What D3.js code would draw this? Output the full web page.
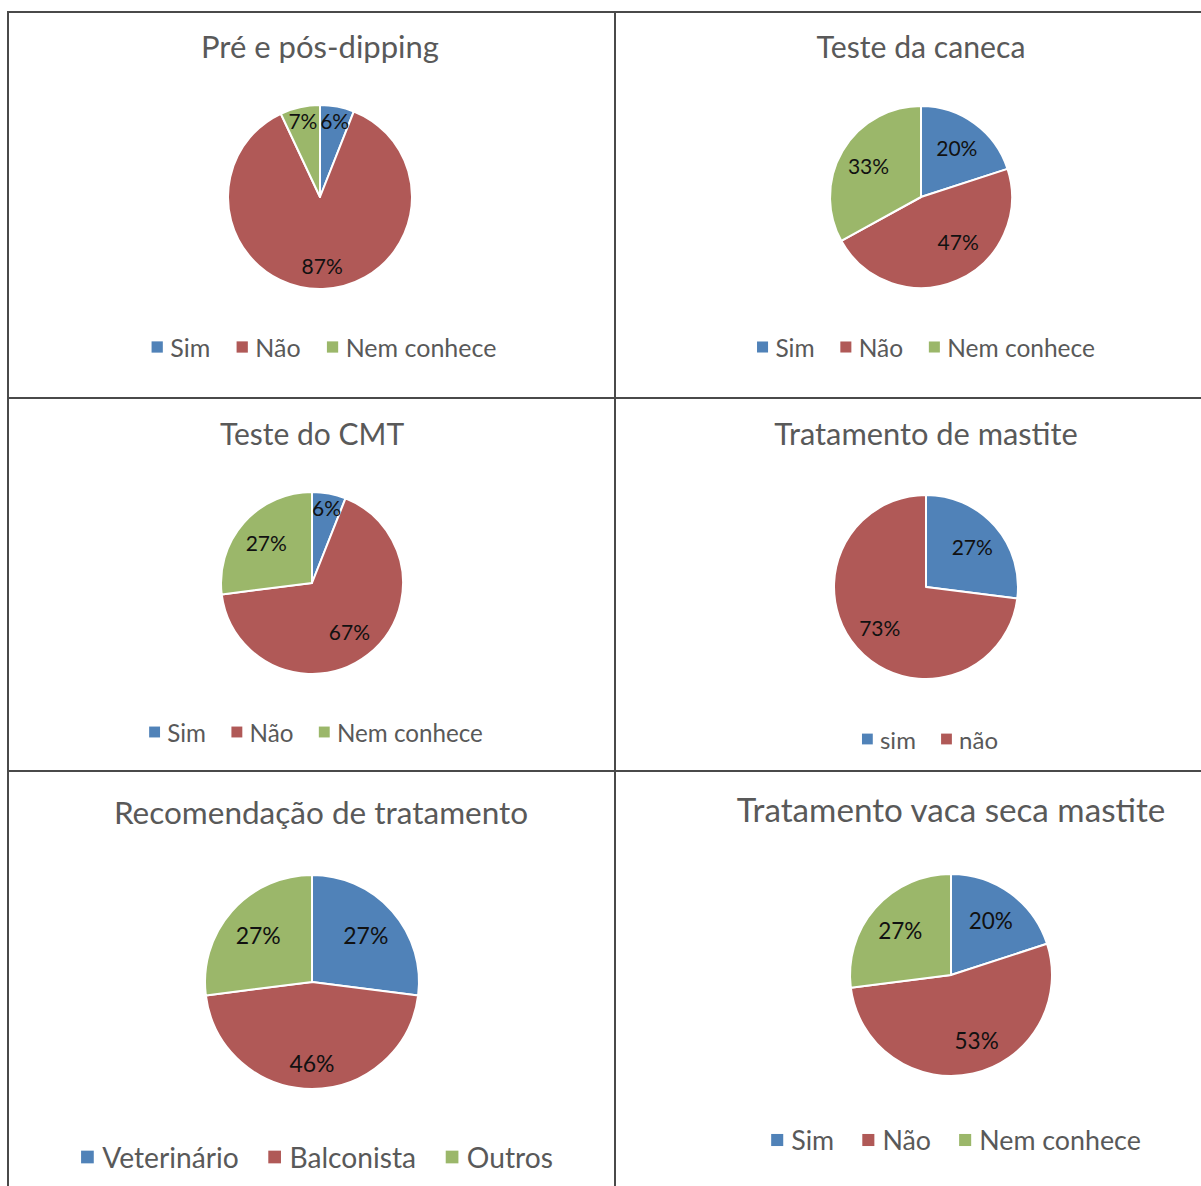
<!DOCTYPE html>
<html>
<head>
<meta charset="utf-8">
<script src="https://cdn.jsdelivr.net/npm/d3@7"></script>
<style>
  html, body { margin: 0; padding: 0; background: #fff; }
  svg { display: block; }
  text { font-family: Lato, "Open Sans", sans-serif; }
</style>
</head>
<body>
<svg id="chart" width="1201" height="1186"></svg>
<script>
// ---- Data ----
const titles = [
  "Pré e pós-dipping",
  "Teste da caneca",
  "Teste do CMT",
  "Tratamento de mastite",
  "Recomendação de tratamento",
  "Tratamento vaca seca mastite"
];
const catSimNao = ["Sim", "Não", "Nem conhece"];
const catSimNaoLower = ["sim", "não"];
const catRecomendacao = ["Veterinário", "Balconista", "Outros"];

const valuesDipping = [6, 87, 7];
const valuesCaneca = [20, 47, 33];
const valuesCMT = [6, 67, 27];
const valuesTratamento = [27, 73];
const valuesRecomendacao = [27, 46, 27];
const valuesVacaSeca = [20, 53, 27];

// ---- Styles / layout ----
const colors = ["#5082B8", "#B05957", "#9BB76A"];
const layout = [
  { cx: 320, cy: 197, r: 92, tx: 320, ty: 58, ts: 31, lx: 324, ly: 347, ls: 25, fs: 21 },
  { cx: 921, cy: 197, r: 91, tx: 921, ty: 58, ts: 30.2, lx: 926, ly: 347, ls: 24.5, fs: 21 },
  { cx: 312, cy: 583, r: 91, tx: 312, ty: 445, ts: 30, lx: 316, ly: 732, ls: 24.2, fs: 21 },
  { cx: 926, cy: 587, r: 92, tx: 926, ty: 445, ts: 30.8, lx: 930, ly: 739, ls: 24, fs: 21 },
  { cx: 312, cy: 982, r: 107, tx: 321, ty: 824, ts: 31.5, lx: 317, ly: 1157, ls: 28.2, fs: 23 },
  { cx: 951, cy: 975, r: 101, tx: 951, ty: 822, ts: 33.2, lx: 956, ly: 1140, ls: 26.8, fs: 22.5 }
];
const panels = [
  { title: titles[0], cats: catSimNao, vals: valuesDipping },
  { title: titles[1], cats: catSimNao, vals: valuesCaneca },
  { title: titles[2], cats: catSimNao, vals: valuesCMT },
  { title: titles[3], cats: catSimNaoLower, vals: valuesTratamento },
  { title: titles[4], cats: catRecomendacao, vals: valuesRecomendacao },
  { title: titles[5], cats: catSimNao, vals: valuesVacaSeca }
];

const svg = d3.select("#chart");

// table grid lines
const gridColor = "#4a4a4a";
const grid = svg.append("g").attr("stroke", gridColor).attr("stroke-width", 2);
grid.append("line").attr("x1", 8).attr("x2", 1201).attr("y1", 12).attr("y2", 12);
grid.append("line").attr("x1", 8).attr("x2", 1201).attr("y1", 398).attr("y2", 398);
grid.append("line").attr("x1", 8).attr("x2", 1201).attr("y1", 771).attr("y2", 771);
grid.append("line").attr("x1", 8).attr("x2", 8).attr("y1", 11).attr("y2", 1186);
grid.append("line").attr("x1", 615).attr("x2", 615).attr("y1", 11).attr("y2", 1186);

const pie = d3.pie().sort(null).value(d => d.v);

panels.forEach((p, i) => {
  const L = layout[i];
  const color = d3.scaleOrdinal().domain(p.cats).range(colors);
  const data = p.cats.map((c, k) => ({ c, v: p.vals[k] }));
  const total = d3.sum(p.vals);
  const arcs = pie(data);
  const arc = d3.arc().innerRadius(0).outerRadius(L.r);

  // title
  svg.append("text")
    .attr("x", L.tx).attr("y", L.ty)
    .attr("text-anchor", "middle")
    .attr("font-size", L.ts)
    .attr("fill", "#595959")
    .text(p.title);

  const g = svg.append("g").attr("transform", `translate(${L.cx},${L.cy})`);
  g.selectAll("path").data(arcs).join("path")
    .attr("d", arc)
    .attr("fill", d => color(d.data.c))
    .attr("stroke", "#fff")
    .attr("stroke-width", 2)
    .attr("stroke-linejoin", "round");

  g.selectAll("text.lbl").data(arcs).join("text")
    .attr("class", "lbl")
    .attr("transform", d => {
      const frac = d.data.v / total;
      let lr = L.r * 0.67;
      let a = (d.startAngle + d.endAngle) / 2;
      if (frac < 0.1) lr = L.r * 0.85;
      else if (frac > 0.8) lr = L.r * 0.74;
      else if (frac > 0.44 && frac < 0.6) {
        // best-fit style: half-pie slice labels drift away from the bottom
        const off = a - Math.PI;
        lr = L.r * (0.76 - 0.3 * Math.abs(off));
        a = a + 0.7 * off;
      }
      return `translate(${Math.sin(a) * lr},${-Math.cos(a) * lr})`;
    })
    .attr("text-anchor", "middle")
    .attr("dominant-baseline", "central")
    .attr("font-size", L.fs)
    .attr("fill", "#111")
    .text(d => d.data.v + "%");

  // legend
  const lg = svg.append("g");
  const items = lg.selectAll("g").data(p.cats).join("g");
  const sq = L.ls * 0.45;
  items.append("rect")
    .attr("width", sq).attr("height", sq)
    .attr("y", -sq / 2)
    .attr("fill", d => color(d));
  items.append("text")
    .attr("x", sq + L.ls * 0.3)
    .attr("y", 0)
    .attr("dominant-baseline", "central")
    .attr("font-size", L.ls)
    .attr("fill", "#595959")
    .text(d => d);
  // position items
  let x = 0;
  const gap = L.ls * 1.05;
  items.each(function () {
    const w = d3.select(this).select("text").node().getComputedTextLength() + sq + L.ls * 0.3;
    d3.select(this).attr("transform", `translate(${x},0)`);
    x += w + gap;
  });
  const totalW = x - gap;
  lg.attr("transform", `translate(${L.lx - totalW / 2},${L.ly})`);
});
</script>
</body>
</html>
